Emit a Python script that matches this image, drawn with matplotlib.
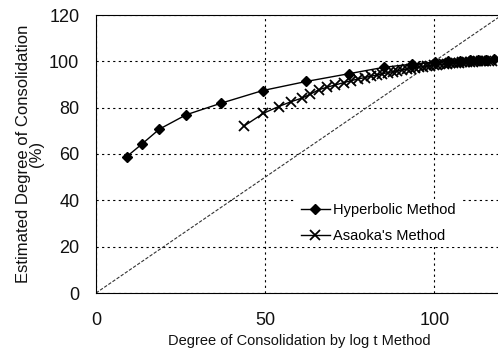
import numpy as np
import matplotlib
matplotlib.use("Agg")
import matplotlib.pyplot as plt

plt.rcParams['font.family'] = ['Liberation Sans', 'DejaVu Sans']

# Hyperbolic method
hyp_x = [9.1, 13.5, 18.7, 26.6, 36.9, 49.3, 62.1, 74.9, 85.0, 93.4, 100.3,
         104.0, 107.7, 110.5, 113.0, 115.3, 117.5]
hyp_y = [58.9, 64.2, 70.7, 76.9, 81.9, 87.4, 91.3, 94.7, 97.4, 98.8, 99.7,
         100.0, 100.3, 100.5, 100.6, 100.7, 100.8]

# Asaoka's method
asa_x = [43.8, 49.5, 54.0, 57.7, 60.8, 63.3, 65.8, 68.2, 70.7, 73.2, 75.5,
         77.5, 79.5, 81.3, 83.0, 84.6, 86.2, 87.7, 89.1, 90.5, 91.8, 93.1,
         94.3, 95.5, 96.6, 97.7, 98.8, 99.8, 100.8, 101.8, 102.8, 103.7,
         104.6, 105.5, 106.4, 107.3, 108.2, 109.0, 109.8, 110.6, 111.4,
         112.2, 113.0, 113.8, 114.6, 115.4, 116.2, 117.0]
asa_y = [72.1, 77.6, 80.5, 82.6, 84.1, 85.8, 87.7, 88.8, 89.8, 90.8, 91.7,
         92.4, 93.0, 93.6, 94.1, 94.6, 95.1, 95.5, 95.9, 96.3, 96.6, 96.9,
         97.2, 97.5, 97.7, 97.9, 98.1, 98.3, 98.5, 98.7, 98.8, 99.0, 99.1,
         99.2, 99.3, 99.4, 99.5, 99.6, 99.7, 99.8, 99.9, 100.0, 100.0, 100.1,
         100.1, 100.2, 100.2, 100.3]

line_eq = [0, 120]

fig = plt.figure(figsize=(4.98, 3.60), dpi=100)
ax = fig.add_axes([96/498, 1-293/360, 406/498, 278/360])

ax.plot(line_eq, line_eq, color='#333333', lw=0.8, ls=(0, (3, 1.5)))
ax.plot(hyp_x, hyp_y, color='black', lw=1.0, marker='D', ms=5,
        label='Hyperbolic Method')
ax.plot(asa_x, asa_y, color='black', lw=1.0, marker='x', ms=7, mew=1.3,
        label="Asaoka's Method")

ax.set_xlim(0, 120)
ax.set_ylim(0, 120)
ax.set_xticks([0, 50, 100])
ax.set_yticks(range(0, 121, 20))
ax.grid(True, color='black', lw=0.8, ls=(0, (2, 3)))
ax.tick_params(axis='both', length=0, labelsize=13, labelcolor='#111111')
ax.tick_params(axis='x', pad=14)
ax.tick_params(axis='y', pad=12)

ax.set_xlabel('Degree of Consolidation by log t Method', fontsize=10.5,
              labelpad=3, color='#111111')
ax.set_ylabel('Estimated Degree of Consolidation\n(%)', fontsize=12,
              linespacing=0.8, labelpad=4, color='#111111')

leg = ax.legend(loc='center left', bbox_to_anchor=(289/498, 1-223/360),
                bbox_transform=fig.transFigure, frameon=True, fontsize=10.5,
                handlelength=2.0, handletextpad=0.2, borderpad=0.3,
                labelspacing=0.8, fancybox=False)
leg.get_frame().set_edgecolor('none')
leg.get_frame().set_facecolor('white')
leg.get_frame().set_alpha(1)

fig.savefig('out.png', dpi=100)
